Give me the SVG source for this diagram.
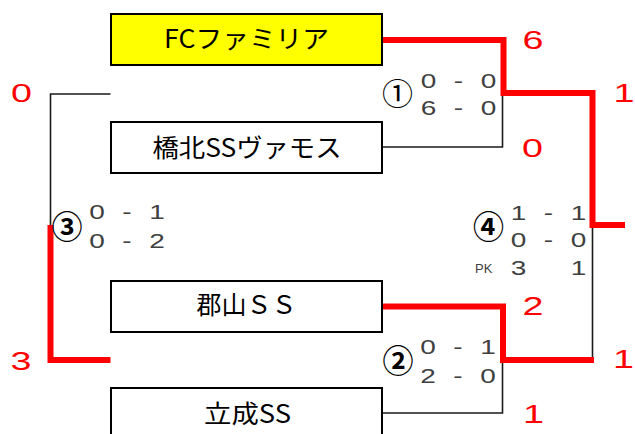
<svg xmlns="http://www.w3.org/2000/svg" width="635" height="434" viewBox="0 0 635 434">
<style>
.box{fill:#fff;stroke:#000;stroke-width:2}
.win{fill:#ffff00}
.name{font-family:"Noto Sans CJK JP","Liberation Sans",sans-serif;font-size:25px;fill:#000;text-anchor:middle}
.ln{fill:none;stroke:#1a1a1a;stroke-width:1.6}
.red{fill:none;stroke:#ff0000;stroke-width:6;stroke-linejoin:miter;stroke-linecap:butt}
.r{font-family:"Liberation Sans",Arial,sans-serif;font-size:26px;fill:#ff0000;text-anchor:middle}
.g{font-family:"Liberation Sans",Arial,sans-serif;font-size:20px;fill:#404040;text-anchor:middle}
.pk{font-family:"Liberation Sans",Arial,sans-serif;font-size:13px;fill:#404040}
.c{font-family:"Noto Sans CJK JP","DejaVu Sans",sans-serif;font-size:31px;fill:#000;text-anchor:middle}
</style>

<g id="connectors">
  <polyline class="ln" points="382,147 502.5,147 502.5,93"/>
  <polyline class="ln" points="592.5,228 592.5,361"/>
  <polyline class="ln" points="382,413 502.5,413 502.5,361"/>
  <polyline class="ln" points="110.5,94 50.5,94 50.5,226"/>
  <polyline class="red" points="382,40 503.5,40 503.5,93 592.5,93 592.5,225 625,225"/>
  <polyline class="red" points="382,306.5 503,306.5 503,360 594,360"/>
  <polyline class="red" points="50.5,225 50.5,360 110.5,360"/>
</g>

<g id="node-fc">
  <rect class="box win" x="111" y="14" width="271" height="51"/>
  <text class="name" x="246.5" y="48" textLength="165" lengthAdjust="spacingAndGlyphs">FCファミリア</text>
</g>
<g id="node-kyohoku">
  <rect class="box" x="111" y="122" width="271" height="51"/>
  <text class="name" x="247" y="156.5" textLength="189" lengthAdjust="spacingAndGlyphs">橋北SSヴァモス</text>
</g>
<g id="node-koriyama">
  <rect class="box" x="111" y="281" width="271" height="51"/>
  <text class="name" x="246.5" y="314" textLength="100" lengthAdjust="spacingAndGlyphs">郡山ＳＳ</text>
</g>
<g id="node-ritsusei">
  <rect class="box" x="111" y="388" width="271" height="60"/>
  <text class="name" x="247.5" y="423" textLength="87" lengthAdjust="spacingAndGlyphs">立成SS</text>
</g>

<g id="match-1">
  <text class="c" x="397.5" y="104.5">①</text>
  <text class="g" transform="translate(458.5 88) scale(1.4 1)" x="-21.4 -10.7 0 10.7 21.4">0 - 0</text>
  <text class="g" transform="translate(458.5 114.5) scale(1.4 1)" x="-21.4 -10.7 0 10.7 21.4">6 - 0</text>
</g>
<g id="match-2">
  <text class="c" font-weight="bold" x="398" y="372">②</text>
  <text class="g" transform="translate(458 354) scale(1.4 1)" x="-21.4 -10.7 0 10.7 21.4">0 - 1</text>
  <text class="g" transform="translate(458 382.5) scale(1.4 1)" x="-21.4 -10.7 0 10.7 21.4">2 - 0</text>
</g>
<g id="match-3">
  <text class="c" font-weight="bold" x="67" y="238" font-size="29">③</text>
  <text class="g" transform="translate(127 218.5) scale(1.4 1)" x="-21.4 -10.7 0 10.7 21.4">0 - 1</text>
  <text class="g" transform="translate(127 248) scale(1.4 1)" x="-21.4 -10.7 0 10.7 21.4">0 - 2</text>
</g>
<g id="match-4">
  <text class="c" font-weight="bold" x="488.5" y="237.5">④</text>
  <text class="g" transform="translate(548.5 219.5) scale(1.4 1)" x="-21.4 -10.7 0 10.7 21.4">1 - 1</text>
  <text class="g" transform="translate(548.5 247) scale(1.4 1)" x="-21.4 -10.7 0 10.7 21.4">0 - 0</text>
  <text class="pk" x="475" y="272.7">PK</text>
  <text class="g" transform="translate(548.5 275) scale(1.4 1)" x="-21.4 0 21.4">3 1</text>
</g>

<g id="scores">
  <text class="r" transform="translate(533 48.5) scale(1.45 1)">6</text>
  <text class="r" transform="translate(532.5 157) scale(1.45 1)">0</text>
  <text class="r" transform="translate(624 102) scale(1.45 1)">1</text>
  <text class="r" transform="translate(21.5 102) scale(1.45 1)">0</text>
  <text class="r" transform="translate(21 370) scale(1.45 1)">3</text>
  <text class="r" transform="translate(533 315) scale(1.45 1)">2</text>
  <text class="r" transform="translate(533.4 423) scale(1.45 1)">1</text>
  <text class="r" transform="translate(623.4 368) scale(1.45 1)">1</text>
</g>
</svg>
